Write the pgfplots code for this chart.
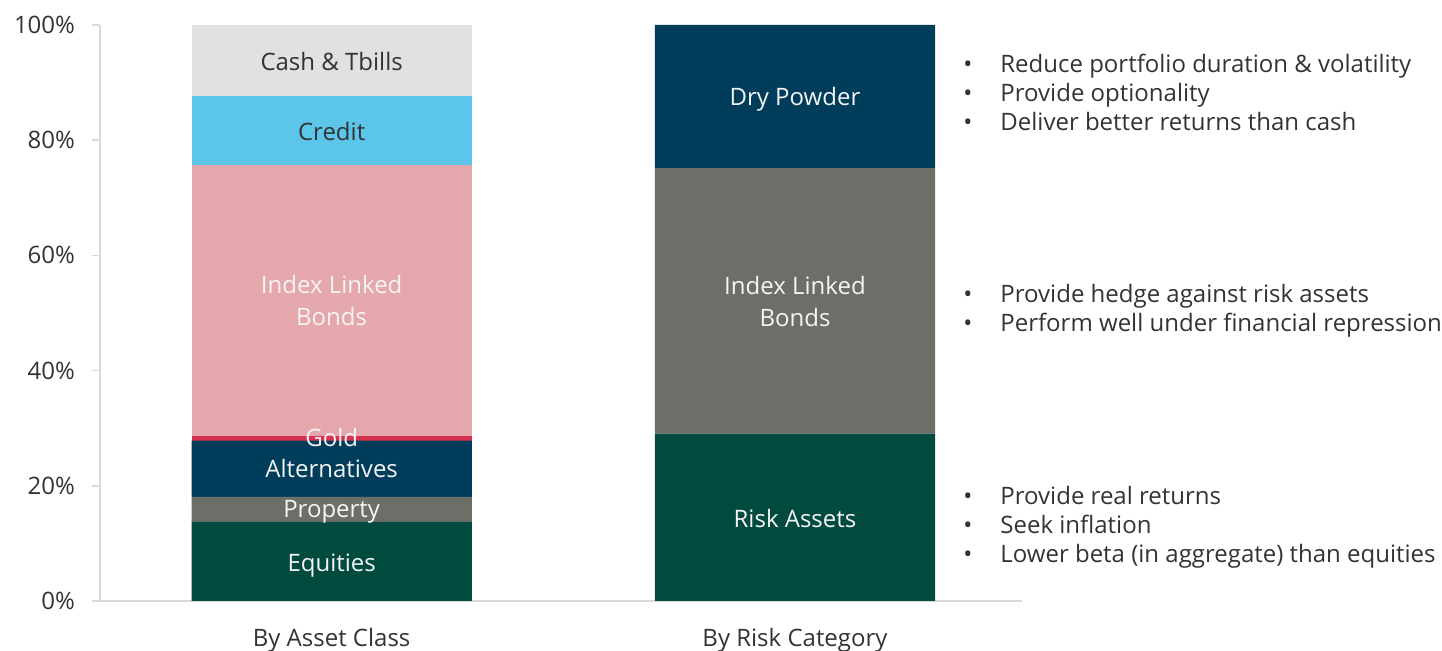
\documentclass[border=0pt]{standalone}
\usepackage{fontspec}
\setmainfont{Open Sans}
\usepackage{pgfplots}
\pgfplotsset{compat=1.18}
\usetikzlibrary{calc}

\definecolor{cEq}{HTML}{004B3D}
\definecolor{cProp}{HTML}{6E6E69}
\definecolor{cAlt}{HTML}{003D5B}
\definecolor{cGold}{HTML}{D93250}
\definecolor{cILB}{HTML}{E4A7AC}
\definecolor{cCred}{HTML}{5BC5EA}
\definecolor{cCash}{HTML}{E1E1E1}
\definecolor{cTxt}{HTML}{333333}
\definecolor{cLbl}{HTML}{F4F4F4}
\definecolor{cAx}{HTML}{D9D9D9}

\tikzset{
  seg/.style={text=cLbl, align=center, font=\fontsize{12}{16}\selectfont},
  segd/.style={seg, text=cTxt},
  bul/.style={text=cTxt, align=left, anchor=west, inner sep=0pt},
}
\newcommand{\bul}{\makebox[18.5pt][l]{•}}
\pgfplotsset{frame/.style={
  scale only axis, width=461pt, height=288pt,
  xmin=-0.5, xmax=1.49, ymin=0, ymax=100, clip=false}}

\begin{document}
\begin{tikzpicture}[font=\fontsize{12}{14.4}\selectfont]
\begin{axis}[
  name=ax, frame,
  ybar stacked, bar width=0.605,
  axis x line*=bottom, axis y line*=left,
  axis line style={cAx, line width=0.8pt},
  xtick={0,1}, xticklabels={By Asset Class, By Risk Category},
  x tick label style={text=cTxt, yshift=-6pt},
  ytick={0,20,40,60,80,100},
  yticklabels={0\%,20\%,40\%,60\%,80\%,100\%},
  y tick label style={text=cTxt, xshift=-5pt},
  tick style={cAx, line width=0.8pt},
  xtick style={draw=none},
  tick align=outside, major tick length=4pt,
]
% By Asset Class (x=0), By Risk Category (x=1)
\addplot[fill=cEq, draw=none]   coordinates {(0,13.74) (1,29.04)};
\addplot[fill=cProp, draw=none] coordinates {(0,4.35)  (1,46.09)};
\addplot[fill=cAlt, draw=none]  coordinates {(0,9.74)  (1,24.87)};
\addplot[fill=cGold, draw=none] coordinates {(0,0.87)  (1,0)};
\addplot[fill=cILB, draw=none]  coordinates {(0,46.96) (1,0)};
\addplot[fill=cCred, draw=none] coordinates {(0,12.00) (1,0)};
\addplot[fill=cCash, draw=none] coordinates {(0,12.34) (1,0)};
\end{axis}

% labels on top of the stacked bars
\begin{axis}[frame, hide axis]
\node[seg] at (axis cs:0,6.2)   {Equities};
\node[seg] at (axis cs:0,15.4)  {Property};
\node[seg] at (axis cs:0,23.0)  {Alternatives};
\node[seg] at (axis cs:0,28.3)  {Gold};
\node[seg] at (axis cs:0,52.1)  {Index Linked\\Bonds};
\node[segd] at (axis cs:0,81.5) {Credit};
\node[segd] at (axis cs:0,93.6) {Cash \& Tbills};
\node[seg] at (axis cs:1,14.3)  {Risk Assets};
\node[seg] at (axis cs:1,52.0)  {Index Linked\\Bonds};
\node[seg] at (axis cs:1,87.1)  {Dry Powder};

\node[bul] at (axis cs:1.3627,88.3) {\bul Reduce portfolio duration \& volatility\\\bul Provide optionality\\\bul Deliver better returns than cash};
\node[bul] at (axis cs:1.3627,50.4) {\bul Provide hedge against risk assets\\\bul Perform well under financial repression};
\node[bul] at (axis cs:1.3627,12.85) {\bul Provide real returns\\\bul Seek inflation\\\bul Lower beta (in aggregate) than equities};
\end{axis}
\pgfresetboundingbox
\path ($(ax.south west)+(-50pt,-25pt)$) rectangle ($(ax.south west)+(671pt,300.5pt)$);
\end{tikzpicture}
\end{document}
